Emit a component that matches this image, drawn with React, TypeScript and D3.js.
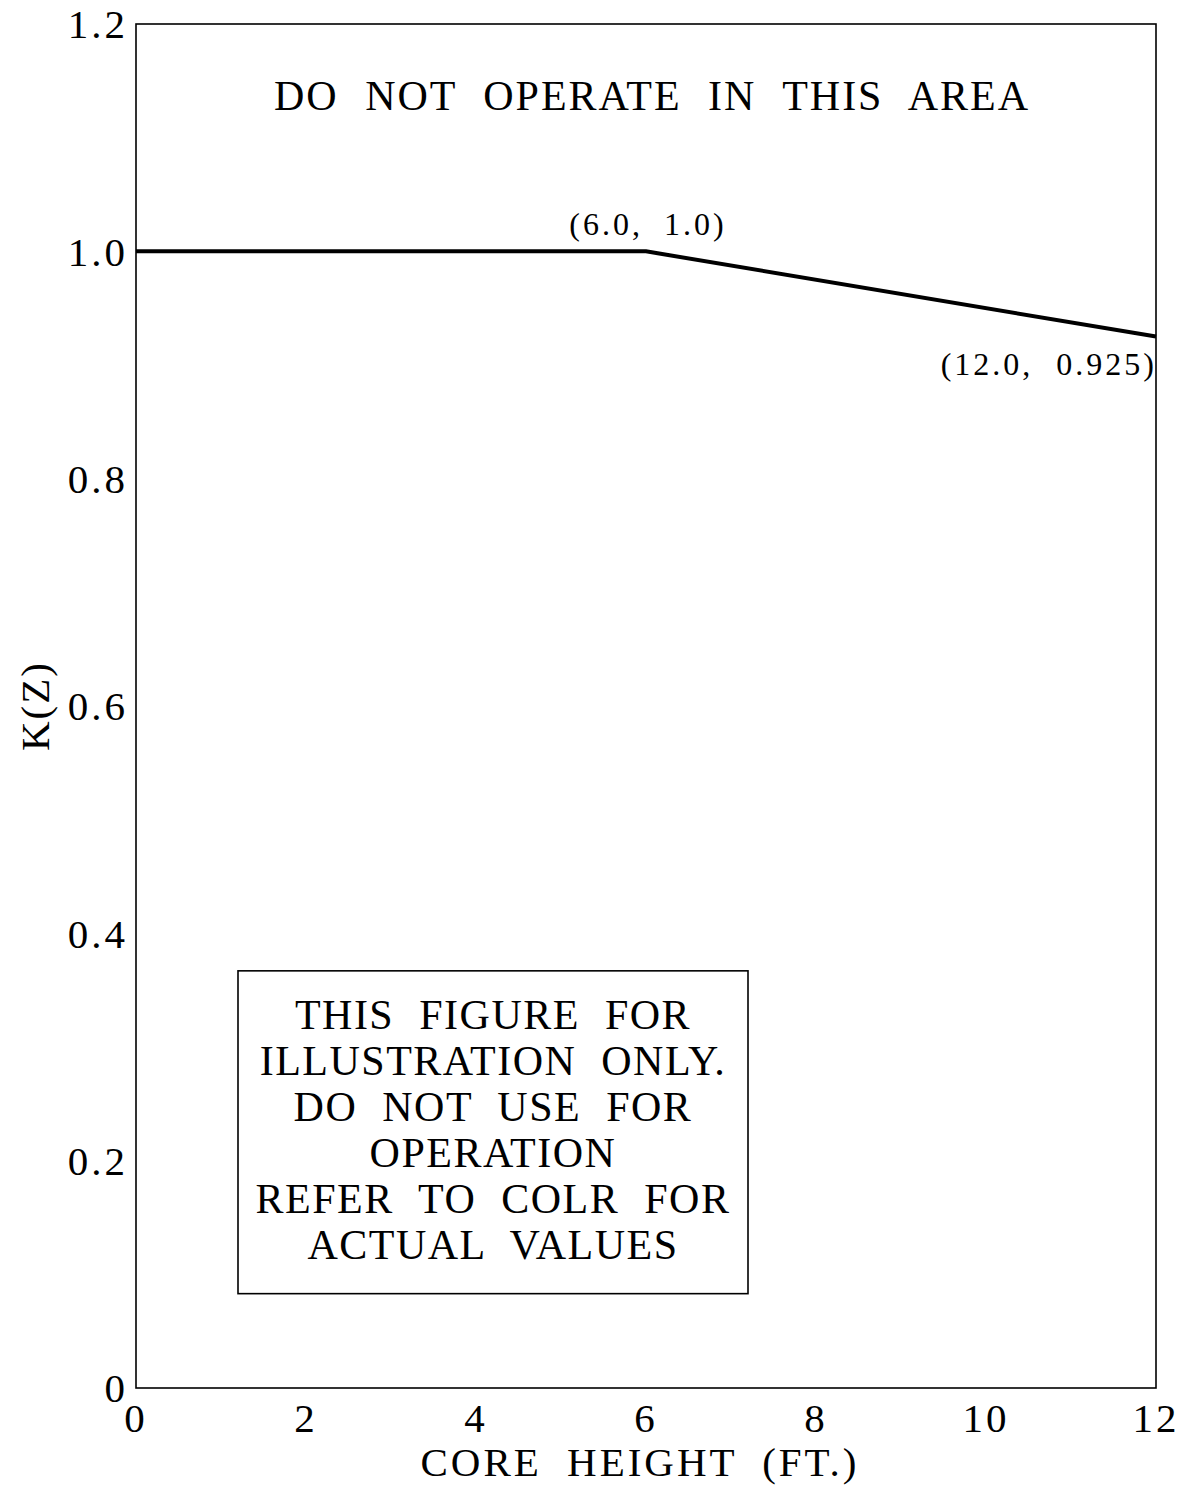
import * as d3 from "d3";

const coreHeight = [0, 6.0, 12.0];
const kz = [1.0, 1.0, 0.925];
const xTicks = [0, 2, 4, 6, 8, 10, 12];
const yTicks = [0, 0.2, 0.4, 0.6, 0.8, 1.0, 1.2];
const noteLines = [
  "THIS FIGURE FOR",
  "ILLUSTRATION ONLY.",
  "DO NOT USE FOR",
  "OPERATION",
  "REFER TO COLR FOR",
  "ACTUAL VALUES",
];

const W = 1181;
const H = 1486;
const m = { top: 24, right: 25, bottom: 98, left: 136 };
const font = "'Liberation Serif', 'DejaVu Serif', serif";

export default function App() {
  const iW = W - m.left - m.right;
  const iH = H - m.top - m.bottom;
  const x = d3.scaleLinear().domain([0, 12]).range([0, iW]);
  const y = d3.scaleLinear().domain([0, 1.2]).range([iH, 0]);
  const pts = coreHeight.map((c, i) => [c, kz[i]] as [number, number]);
  const line = d3.line<[number, number]>().x(d => x(d[0])).y(d => y(d[1]));

  // note box in data units
  const bx0 = x(1.2), bx1 = x(7.2);
  const by0 = y(0.367), by1 = y(0.083);
  const lineGap = 46;
  const noteTop = y(0.316);

  return (
    <div style={{ position: "absolute", left: 0, top: 0 }}>
      <svg width={W} height={H} style={{ display: "block", background: "#fff" }}>
        <g transform={`translate(${m.left},${m.top})`} fontFamily={font} fill="#000">
          <rect x={0} y={0} width={iW} height={iH} fill="none" stroke="#000" strokeWidth={1.6} />

          {yTicks.map(t => (
            <text key={"y" + t} x={-8} y={y(t)} dy="0.35em" textAnchor="end" fontSize={41} letterSpacing={3}>
              {t === 0 ? "0" : t.toFixed(1)}
            </text>
          ))}
          {xTicks.map(t => (
            <text key={"x" + t} x={x(t)} y={iH + 44} textAnchor="middle" fontSize={41} letterSpacing={3}>
              {t}
            </text>
          ))}

          <text x={iW / 2 - 6} y={iH + 88} textAnchor="middle" fontSize={41} letterSpacing={3} wordSpacing={12}>
            CORE HEIGHT (FT.)
          </text>
          <text transform={`translate(${-101},${y(0.6)}) rotate(-90)`} textAnchor="middle" dy="0.35em" fontSize={41} letterSpacing={2}>
            K(Z)
          </text>

          <path d={line(pts) ?? ""} fill="none" stroke="#000" strokeWidth={4} />

          <text x={x(6.0) + 2} y={y(1.0) - 16} textAnchor="middle" fontSize={32} letterSpacing={3} wordSpacing={10}>
            (6.0, 1.0)
          </text>
          <text x={x(12.0) + 1} y={y(0.925) + 38} textAnchor="end" fontSize={32} letterSpacing={3} wordSpacing={12}>
            (12.0, 0.925)
          </text>

          <text x={(x(0) + x(12)) / 2 + 6} y={y(1.13) + 6} textAnchor="middle" fontSize={42} letterSpacing={2} wordSpacing={14}>
            DO NOT OPERATE IN THIS AREA
          </text>

          <rect x={bx0} y={by0} width={bx1 - bx0} height={by1 - by0} fill="none" stroke="#000" strokeWidth={1.6} />
          {noteLines.map((s, i) => (
            <text key={s} x={(bx0 + bx1) / 2} y={noteTop + i * lineGap} textAnchor="middle" fontSize={42} letterSpacing={1.5} wordSpacing={13}>
              {s}
            </text>
          ))}
        </g>
      </svg>
    </div>
  );
}
